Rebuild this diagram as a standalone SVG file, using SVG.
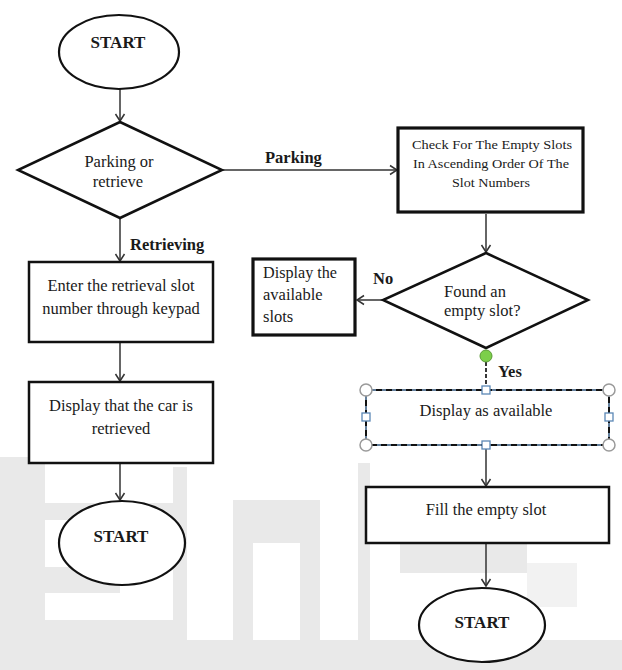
<svg xmlns="http://www.w3.org/2000/svg" width="622" height="670" viewBox="0 0 622 670" font-family="'Liberation Serif', 'Times New Roman', serif" font-size="16.5">
<style>
.b{font-weight:bold}
.c{text-anchor:middle}
.n{fill:#fff;stroke:#111;stroke-width:2.5}
.e{fill:#fff;stroke:#111;stroke-width:2.2}
.k{fill:#fff;stroke:#111;stroke-width:3.2}
.l{fill:none;stroke:#333;stroke-width:1.5}
.wm{fill:#e9e9e9}
.hc{fill:#fff;stroke:#9a9a9a;stroke-width:1.5}
.hs{fill:#fff;stroke:#5b87b5;stroke-width:1.3}
</style>
<defs>
<marker id="ar" markerWidth="12" markerHeight="12" refX="10" refY="6" orient="auto" markerUnits="userSpaceOnUse">
<path d="M3,1.5 L10,6 L3,10.5" fill="none" stroke="#333" stroke-width="1.5"/>
</marker>
</defs>
<rect width="622" height="670" fill="#fff"/>
<g id="watermark">
<path class="wm" d="M0,457 H45 V503 H173 V467 H187 V640 H0 Z M45,520 V567 H120 V593 H45 V620 H173 V520 Z" fill-rule="evenodd"/>
<path class="wm" d="M233,500 H320 V640 H300 V543 H253 V640 H233 Z"/>
<rect class="wm" x="358" y="463" width="12" height="177"/>
<rect class="wm" x="400" y="520" width="127" height="53"/>
<rect class="wm" x="527" y="563" width="50" height="44" opacity="0.6"/>
<rect class="wm" x="0" y="640" width="622" height="30"/>
</g>
<g id="connectors" fill="#1a1a1a">
<line class="l" x1="120" y1="89" x2="120" y2="121" marker-end="url(#ar)"/>
<line class="l" x1="222" y1="170" x2="397" y2="170" marker-end="url(#ar)"/>
<line class="l" x1="120" y1="219" x2="120" y2="261" marker-end="url(#ar)"/>
<line class="l" x1="120" y1="343" x2="120" y2="381" marker-end="url(#ar)"/>
<line class="l" x1="120" y1="464" x2="120" y2="500" marker-end="url(#ar)"/>
<line class="l" x1="486" y1="214" x2="486" y2="252" marker-end="url(#ar)"/>
<line class="l" x1="383" y1="300" x2="357" y2="300" marker-end="url(#ar)"/>
<line x1="486" y1="362" x2="486" y2="386" stroke="#222" stroke-width="1.8" stroke-dasharray="4 2"/>
<line class="l" x1="486" y1="449" x2="486" y2="486" marker-end="url(#ar)"/>
<line class="l" x1="486" y1="544" x2="486" y2="586" marker-end="url(#ar)"/>
<text class="b" x="265" y="163">Parking</text>
<text class="b" x="130" y="250">Retrieving</text>
<text class="b" x="373" y="284">No</text>
<text class="b" x="498" y="377">Yes</text>
</g>
<g id="start1" fill="#1a1a1a">
<ellipse class="e" cx="119" cy="52" rx="60" ry="37"/>
<text class="b c" x="118" y="48" font-size="17">START</text>
</g>
<g id="decision1" fill="#1a1a1a">
<polygon class="n" points="120,122 222,170 120,218 18,170"/>
<text class="c" x="119" y="167">Parking or</text>
<text class="c" x="118" y="187">retrieve</text>
</g>
<g id="check" fill="#1a1a1a">
<rect class="k" x="398" y="128" width="185" height="84"/>
<text class="c" x="492" y="149" font-size="13" textLength="160" lengthAdjust="spacingAndGlyphs">Check For The Empty Slots</text>
<text class="c" x="491" y="168" font-size="13" textLength="156" lengthAdjust="spacingAndGlyphs">In Ascending Order Of The</text>
<text class="c" x="491" y="187" font-size="13" textLength="78" lengthAdjust="spacingAndGlyphs">Slot Numbers</text>
</g>
<g id="decision2" fill="#1a1a1a">
<polygon class="n" points="486,253 588,300 486,348 383,300"/>
<text x="444" y="297">Found an</text>
<text x="444" y="316">empty slot?</text>
</g>
<g id="available" fill="#1a1a1a">
<rect class="k" x="253" y="259" width="102" height="76"/>
<text x="263" y="278" textLength="74" lengthAdjust="spacingAndGlyphs">Display the</text>
<text x="263" y="300">available</text>
<text x="263" y="322">slots</text>
</g>
<g id="displayavail" fill="#1a1a1a">
<rect x="366" y="390" width="243" height="55" fill="#fff" stroke="#3d5f82" stroke-width="1.6"/>
<rect x="366" y="390" width="243" height="55" fill="none" stroke="#111" stroke-width="2" stroke-dasharray="6 4"/>
<text class="c" x="486" y="416">Display as available</text>
<circle cx="486" cy="356" r="6" fill="#7ccf4a" stroke="#5a9a35" stroke-width="1"/>
<circle class="hc" cx="366" cy="390" r="6"/>
<circle class="hc" cx="609" cy="390" r="6"/>
<circle class="hc" cx="366" cy="445" r="6"/>
<circle class="hc" cx="609" cy="445" r="6"/>
<rect class="hs" x="482" y="386" width="8" height="8"/>
<rect class="hs" x="482" y="441" width="8" height="8"/>
<rect class="hs" x="362" y="413" width="8" height="8"/>
<rect class="hs" x="605" y="413" width="8" height="8"/>
</g>
<g id="fill" fill="#1a1a1a">
<rect class="n" x="366" y="487" width="243" height="56"/>
<text class="c" x="486" y="515">Fill the empty slot</text>
</g>
<g id="start3" fill="#1a1a1a">
<ellipse class="e" cx="482" cy="625" rx="63" ry="37"/>
<text class="b c" x="482" y="628" font-size="17">START</text>
</g>
<g id="enter" fill="#1a1a1a">
<rect class="n" x="29" y="262" width="184" height="80"/>
<text class="c" x="121" y="291">Enter the retrieval slot</text>
<text class="c" x="121" y="314">number through keypad</text>
</g>
<g id="retrieved" fill="#1a1a1a">
<rect class="n" x="29" y="382" width="184" height="81"/>
<text class="c" x="121" y="411">Display that the car is</text>
<text class="c" x="121" y="434">retrieved</text>
</g>
<g id="start2" fill="#1a1a1a">
<ellipse class="e" cx="122" cy="543" rx="63" ry="42"/>
<text class="b c" x="121" y="542" font-size="17">START</text>
</g>
</svg>
